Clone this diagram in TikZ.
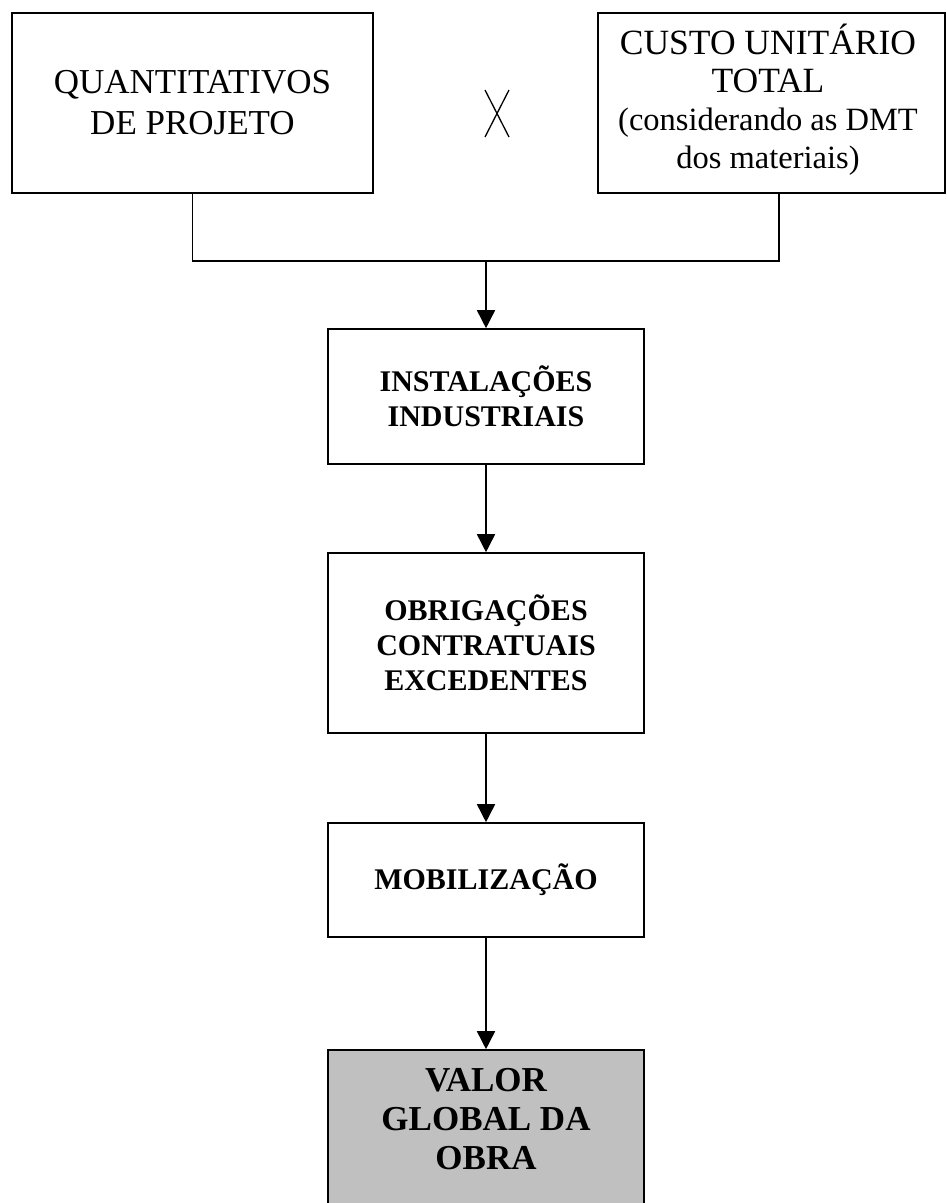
\documentclass[tikz,border=0pt]{standalone}
\usepackage{fontspec}
\setmainfont{Liberation Serif}
\usetikzlibrary{arrows.meta}
\definecolor{boxgray}{RGB}{192,192,192}
\tikzset{
  flowbox/.style={draw=black, line width=1.6pt, fill=white, align=center, inner sep=0pt},
  bigtext/.style={font=\fontsize{35}{41}\selectfont},
  boldtext/.style={font=\fontsize{30}{35}\selectfont\bfseries},
  finaltext/.style={font=\fontsize{35}{39}\selectfont\bfseries, align=center},
  conn/.style={line width=1.6pt},
  arr/.style={line width=1.6pt, -{Triangle[width=18pt,length=18pt]}}
}
\begin{document}
\begin{tikzpicture}[x=1pt,y=-1pt]
\useasboundingbox (0,0) rectangle (946,1203);
\fill[white] (0,0) rectangle (946,1203);
\clip (0,0) rectangle (946,1203);
\node[flowbox, bigtext, minimum width=361pt, minimum height=180pt] (q) at (192.5,103) {QUANTITATIVOS\\DE PROJETO};
\node[flowbox, minimum width=347pt, minimum height=180pt] (c) at (771.5,103) {};
\node[align=center, font=\fontsize{35.5}{38}\selectfont] (ct) at (768,100) {CUSTO UNITÁRIO\\TOTAL\\{\fontsize{32.5}{35}\selectfont (considerando as DMT}\\{\fontsize{32.5}{35}\selectfont dos materiais)}};
\draw[line width=1.3pt] (485,90) -- (509,137) (509,90) -- (485,137);
\node[flowbox, boldtext, minimum width=316pt, minimum height=135pt] (i) at (486,396.5) {INSTALAÇÕES\\INDUSTRIAIS};
\node[flowbox, boldtext, minimum width=316pt, minimum height=180pt] (o) at (486,643) {OBRIGAÇÕES\\CONTRATUAIS\\EXCEDENTES};
\node[flowbox, boldtext, minimum width=316pt, minimum height=114pt] (m) at (486,880) {MOBILIZAÇÃO};
\node[flowbox, fill=boxgray, minimum width=316pt, minimum height=170pt] (v) at (486,1135) {};
\node[finaltext] (vt) at (486,1119) {VALOR\\GLOBAL DA\\OBRA};
\coordinate (jr) at (779,261);
\coordinate (jm) at (486,261);
\draw[conn] (q.south) |- (jr) -- (jr |- c.south);
\draw[arr] (jm) -- (i.north);
\draw[arr] (i.south) -- (o.north);
\draw[arr] (o.south) -- (m.north);
\draw[arr] (m.south) -- (v.north);
\end{tikzpicture}
\end{document}
